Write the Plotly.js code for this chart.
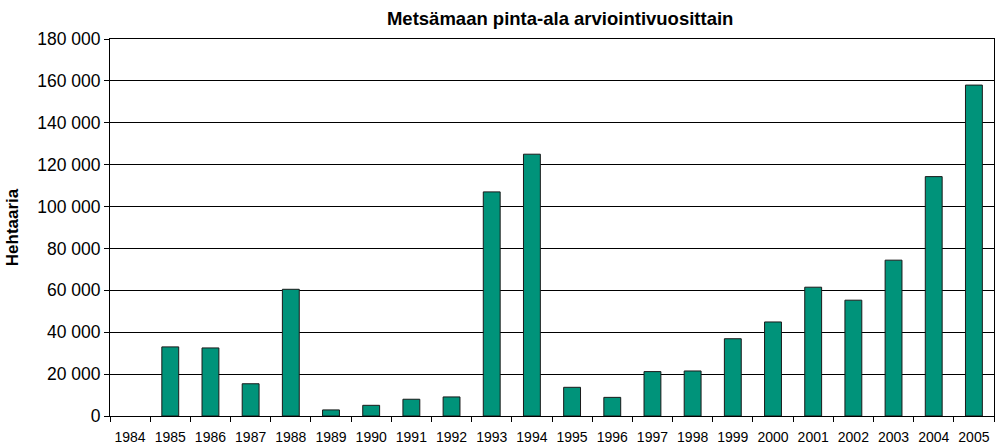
<!DOCTYPE html>
<html>
<head>
<meta charset="utf-8">
<script src="https://cdn.plot.ly/plotly-3.0.1.min.js"></script>
<style>html,body{margin:0;padding:0;background:#fff;}#chart{width:995px;height:447px;}</style>
</head>
<body>
<div id="chart"></div>
<script>
const years = ["1984","1985","1986","1987","1988","1989","1990","1991","1992","1993","1994","1995","1996","1997","1998","1999","2000","2001","2002","2003","2004","2005"];
const hectares = [null,33000,32500,15400,60500,2900,5100,8000,9100,107000,125000,13700,8900,21200,21500,36900,44900,61500,55300,74400,114300,158000];
const yTicks = [0,20000,40000,60000,80000,100000,120000,140000,160000,180000];

const font = "Liberation Sans, Arial, sans-serif";
Plotly.newPlot("chart", [{
  type: "bar",
  x: years,
  y: hectares,
  marker: {color: "#00937A", line: {color: "#1a1a1a", width: 1}},
  hoverinfo: "x+y"
}], {
  width: 995, height: 447,
  margin: {l: 110, r: 1, t: 39, b: 31},
  paper_bgcolor: "#fff", plot_bgcolor: "#fff",
  separators: ", ",
  bargap: 0.58,
  showlegend: false,
  title: {text: "<b>Metsämaan pinta-ala arviointivuosittain</b>", font: {family: font, size: 18.5, color: "#000"}, x: 0.563, xanchor: "center", y: 0.972, yanchor: "top"},
  xaxis: {
    type: "category",
    tickson: "boundaries",
    tickangle: 0,
    ticks: "outside", ticklen: 5, tickcolor: "#000", tickwidth: 1,
    ticklabelstandoff: 8,
    showline: true, linecolor: "#000", linewidth: 1, mirror: true,
    showgrid: false, zeroline: false,
    tickfont: {family: font, size: 14, color: "#000"}
  },
  yaxis: {
    range: [0, 180000],
    tickvals: yTicks,
    tickformat: ",d",
    ticks: "outside", ticklen: 5, tickcolor: "#000", tickwidth: 1,
    showline: true, linecolor: "#000", linewidth: 1, mirror: true,
    showgrid: true, gridcolor: "#000", gridwidth: 1, zeroline: false,
    tickfont: {family: font, size: 17.5, color: "#000"},
    title: {text: "<b>Hehtaaria</b>", font: {family: font, size: 17, color: "#000"}, standoff: 14}
  }
}, {displayModeBar: false, staticPlot: true});
</script>
</body>
</html>
